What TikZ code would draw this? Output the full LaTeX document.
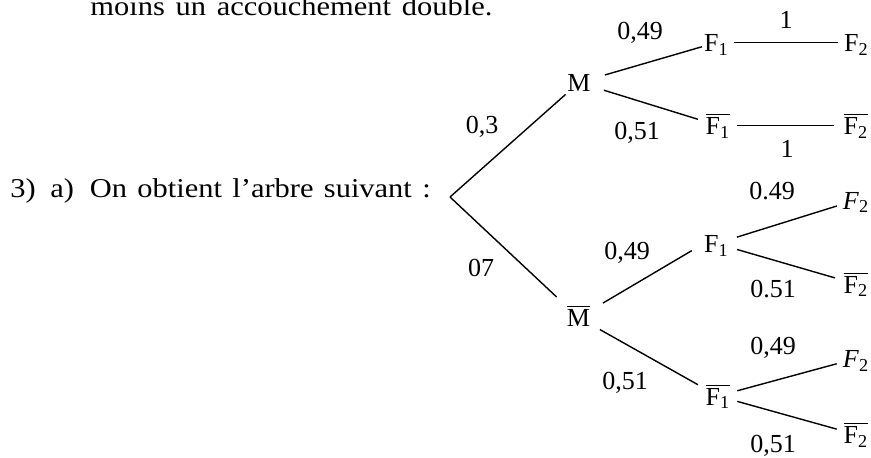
\documentclass[tikz,border=0pt]{standalone}
\usepackage{fontspec}
\setmainfont{Liberation Serif}
\newfontfamily\txtfont[FakeStretch=1.12,Ligatures=TeX]{Liberation Serif}
\usepackage{tikz}
\usetikzlibrary{calc}

\begin{document}
\begin{tikzpicture}[x=0.5pt,y=-0.5pt,
    ev/.style={inner sep=0pt, text height=9pt, text depth=0pt,
               font=\fontsize{13}{15}\selectfont},
    pr/.style={ev},
    txt/.style={anchor=base west, inner sep=0pt,
                font=\txtfont\fontsize{13.6}{16}\selectfont},
    br/.style={line width=0.7pt}]

  \useasboundingbox (0,0) rectangle (871,457);

  % texte
  \node[txt] (haut) at (90,15)
    {\makebox[201pt][s]{moins un accouchement double.}};
  \node[txt] (quest) at (10,197)
    {\makebox[20pt][l]{3)}\makebox[19.75pt][l]{a)}\makebox[170.4pt][s]{On obtient l’arbre suivant :}};

  % racine
  \coordinate (R) at (450,197);

  % premier niveau
  \node[ev] (M)  at (579,82.5)  {M};
  \node[ev] (Mb) at (578.5,317.5) {$\overline{\mbox{M}}$};

  % second niveau
  \node[ev] (F1a)  at (716.5,42.5) {F\textsubscript{1}};
  \node[ev] (F1ba) at (718,125.5)  {$\overline{\mbox{F\textsubscript{1}}}$};
  \node[ev] (F1c)  at (716.5,243.5) {F\textsubscript{1}};
  \node[ev] (F1bd) at (718,396)    {$\overline{\mbox{F\textsubscript{1}}}$};

  % troisieme niveau
  \node[ev] (F2a)  at (856.5,42.5) {F\textsubscript{2}};
  \node[ev] (F2ba) at (856,125.5)  {$\overline{\mbox{F\textsubscript{2}}}$};
  \node[ev] (F2c)  at (856,200)    {\textit{F}\textsubscript{2}};
  \node[ev] (F2bc) at (856,284)    {$\overline{\mbox{F\textsubscript{2}}}$};
  \node[ev] (F2d)  at (856,358.5)  {\textit{F}\textsubscript{2}};
  \node[ev] (F2bd) at (856,434.5)  {$\overline{\mbox{F\textsubscript{2}}}$};

  % branches
  \draw[br, shorten >=9pt] (R) -- (M.center);
  \draw[br, shorten >=15pt] (R) -- (Mb.center);
  \draw[br, shorten <=13.5pt, shorten >=7.5pt] (M.center) -- (F1a.center);
  \draw[br, shorten <=13pt, shorten >=10.5pt] (M.center) -- (F1ba.center);
  \draw[br, shorten <=8.75pt, shorten >=9.25pt] (F1a.center) -- (F2a.center);
  \draw[br, shorten <=9.5pt, shorten >=11pt] (F1ba.center) -- (F2ba.center);
  \draw[br, shorten <=14.2pt, shorten >=7pt] (Mb.center) -- (F1c.west);
  \draw[br, shorten <=12.3pt, shorten >=11.5pt] (Mb.center) -- (F1bd.center);
  \draw[br, shorten <=10.7pt, shorten >=10pt] (F1c.center) -- (F2c.center);
  \draw[br, shorten <=10.7pt, shorten >=11pt] (F1c.center) -- (F2bc.center);
  \draw[br, shorten <=10pt, shorten >=10pt] (F1bd.center) -- (F2d.center);
  \draw[br, shorten <=10pt, shorten >=10pt] (F1bd.center) -- (F2bd.center);

  % probabilites
  \node[pr] (pM)   at (482,124.5) {0,3};
  \node[pr] (pMb)  at (481,267)   {07};
  \node[pr] (pa1)  at (640,30)    {0,49};
  \node[pr] (pa2)  at (637,130)   {0,51};
  \node[pr] (pa3)  at (786,19)    {1};
  \node[pr] (pa4)  at (787,148.5) {1};
  \node[pr] (pc1)  at (627,250)   {0,49};
  \node[pr] (pc2)  at (772,190.5) {0.49};
  \node[pr] (pc3)  at (773,288)   {0.51};
  \node[pr] (pd1)  at (625,380)   {0,51};
  \node[pr] (pd2)  at (773,345)   {0,49};
  \node[pr] (pd3)  at (773,443)   {0,51};

\end{tikzpicture}
\end{document}
